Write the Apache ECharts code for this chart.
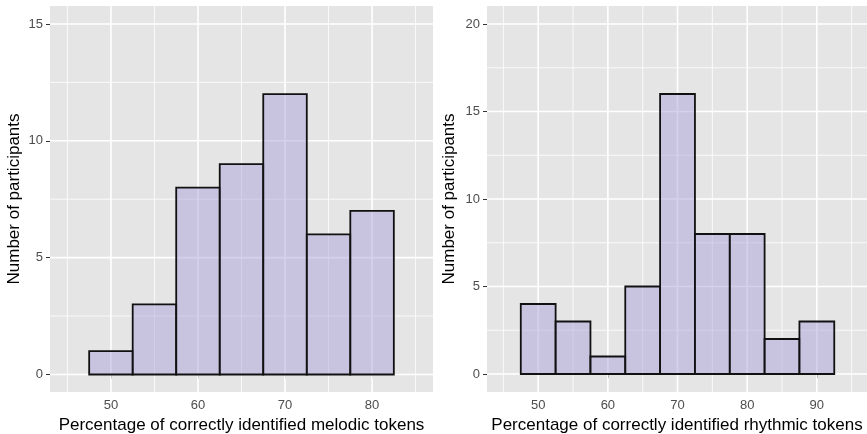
<!DOCTYPE html>
<html>
<head>
<meta charset="utf-8">
<script src="https://cdn.jsdelivr.net/npm/echarts@6/dist/echarts.min.js"></script>
<style>
  html, body { margin: 0; padding: 0; background: #fff; }
  #chart { width: 867px; height: 434px; }
</style>
</head>
<body>
<div id="chart"></div>
<script>
// bin centres (bin width 5) and counts
const binWidth = 5;
const melodicBins = [50, 55, 60, 65, 70, 75, 80];
const melodicCounts = [1, 3, 8, 9, 12, 6, 7];
const rhythmicBins = [50, 55, 60, 65, 70, 75, 80, 85, 90];
const rhythmicCounts = [4, 3, 1, 5, 16, 8, 8, 2, 3];

// tick labels / grid lines
const melodicXTicks = [50, 60, 70, 80];
const melodicXMinor = [45, 55, 65, 75, 85];
const melodicYTicks = [0, 5, 10, 15];
const melodicYMinor = [2.5, 7.5, 12.5];
const rhythmicXTicks = [50, 60, 70, 80, 90];
const rhythmicXMinor = [45, 55, 65, 75, 85, 95];
const rhythmicYTicks = [0, 5, 10, 15, 20];
const rhythmicYMinor = [2.5, 7.5, 12.5, 17.5];

const chart = echarts.init(document.getElementById("chart"));

const labelStyle = { color: "#4d4d4d", fontSize: 13, fontFamily: "Liberation Sans" };
const nameStyle = { color: "#000", fontSize: 17, fontFamily: "Liberation Sans" };

function xAxis(gridIndex, min, max, ticks, name) {
  return {
    type: "value", gridIndex, min, max, name,
    nameLocation: "middle", nameGap: 22, nameTextStyle: nameStyle,
    axisLine: { show: false },
    axisTick: { show: true, length: 4, customValues: ticks, lineStyle: { color: "#333", width: 1 } },
    axisLabel: { customValues: ticks, margin: 7, ...labelStyle },
    splitLine: { show: false }
  };
}

function yAxis(gridIndex, min, max, ticks, name, gap) {
  return {
    type: "value", gridIndex, min, max, name,
    nameLocation: "middle", nameGap: gap, nameTextStyle: nameStyle,
    axisLine: { show: false },
    axisTick: { show: true, length: 4, customValues: ticks, lineStyle: { color: "#333", width: 1 } },
    axisLabel: { customValues: ticks, margin: 7, ...labelStyle },
    splitLine: { show: false }
  };
}

// white panel grid lines drawn through the axis scales
function gridLines(axisIdx, majors, minors, dir) {
  const vals = majors.concat(minors).map(v => [v, majors.includes(v) ? 1 : 0]);
  return {
    type: "custom", xAxisIndex: axisIdx, yAxisIndex: axisIdx, z: 1, silent: true,
    data: vals,
    renderItem(params, api) {
      const v = api.value(0);
      const major = api.value(1) === 1;
      const cs = params.coordSys;
      let shape;
      if (dir === "v") {
        const x = api.coord([v, 0])[0];
        shape = { x1: x, y1: cs.y, x2: x, y2: cs.y + cs.height };
      } else {
        const y = api.coord([0, v])[1];
        shape = { x1: cs.x, y1: y, x2: cs.x + cs.width, y2: y };
      }
      return { type: "line", shape, style: { stroke: "#fff", lineWidth: major ? 1.6 : 0.8 } };
    }
  };
}

function bars(axisIdx, bins, counts) {
  return {
    type: "custom", xAxisIndex: axisIdx, yAxisIndex: axisIdx, z: 3,
    data: bins.map((b, i) => [b, counts[i]]),
    encode: { x: 0, y: 1 },
    renderItem(params, api) {
      const x = api.value(0), y = api.value(1);
      const p0 = api.coord([x - binWidth / 2, y]);
      const p1 = api.coord([x + binWidth / 2, 0]);
      return {
        type: "rect",
        shape: { x: p0[0], y: p0[1], width: p1[0] - p0[0], height: p1[1] - p0[1] },
        style: { fill: "rgba(171,163,219,0.5)", stroke: "#111", lineWidth: 1.8 }
      };
    }
  };
}

const option = {
  animation: false,
  grid: [
    { left: 50, right: 434, top: 6, bottom: 42, outerBoundsMode: "none", show: true, backgroundColor: "#e5e5e5", borderWidth: 0 },
    { left: 487, right: 0, top: 6, bottom: 42, outerBoundsMode: "none", show: true, backgroundColor: "#e5e5e5", borderWidth: 0 }
  ],
  xAxis: [
    xAxis(0, 43, 87, melodicXTicks, "Percentage of correctly identified melodic tokens"),
    xAxis(1, 42.65, 97.2, rhythmicXTicks, "Percentage of correctly identified rhythmic tokens")
  ],
  yAxis: [
    yAxis(0, -0.75, 15.77, melodicYTicks, "Number of participants", 27),
    yAxis(1, -1.03, 21.03, rhythmicYTicks, "Number of participants", 29)
  ],
  series: [
    gridLines(0, melodicXTicks, melodicXMinor, "v"),
    gridLines(0, melodicYTicks, melodicYMinor, "h"),
    gridLines(1, rhythmicXTicks, rhythmicXMinor, "v"),
    gridLines(1, rhythmicYTicks, rhythmicYMinor, "h"),
    bars(0, melodicBins, melodicCounts),
    bars(1, rhythmicBins, rhythmicCounts)
  ]
};

chart.setOption(option);
</script>
</body>
</html>
